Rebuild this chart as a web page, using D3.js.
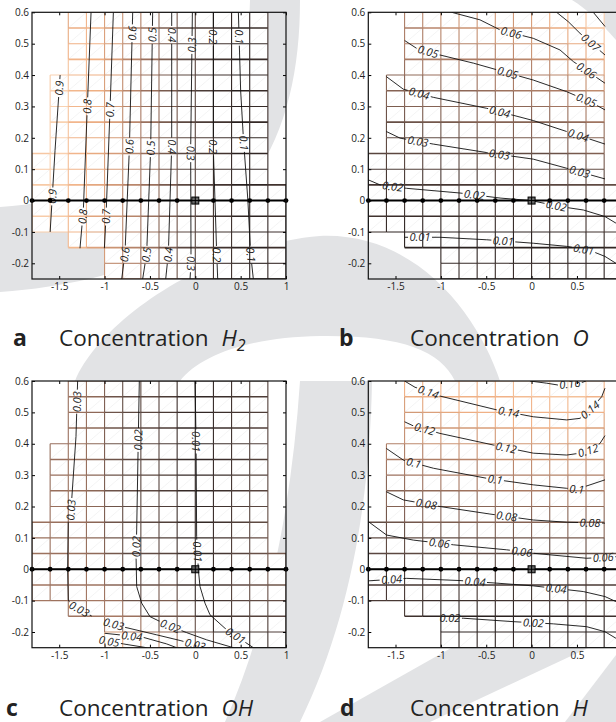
<!DOCTYPE html>
<html>
<head>
<meta charset="utf-8">
<script src="https://d3js.org/d3.v7.min.js"></script>
<style>
  body { margin: 0; background: #fff; overflow: hidden; font-family: "Open Sans", sans-serif; }
</style>
</head>
<body>
<svg id="fig" width="616" height="722"></svg>
<script>
// ---------- data ----------
const xTicks = [-1.5, -1, -0.5, 0, 0.5, 1];
const yTicks = [0.6, 0.5, 0.4, 0.3, 0.2, 0.1, 0, -0.1, -0.2];
const xDomain = [-1.8, 1];
const yDomain = [-0.25, 0.6];

// mesh node lines and the staircase blocks that carry cells [x0, x1, y0, y1]
const meshX = [-1.8, -1.6, -1.4, -1.2, -1.0, -0.8, -0.6, -0.4, -0.2, 0, 0.2, 0.4, 0.6, 0.8, 1.0];
const meshY = [-0.25, -0.2, -0.15, -0.1, -0.05, 0, 0.05, 0.1, 0.15, 0.2, 0.25, 0.3, 0.35, 0.4, 0.45, 0.5, 0.55, 0.6];
const meshBlocks = [
  [-1.8, -1.6, -0.1, 0.15],
  [-1.6, -1.4, -0.1, 0.4],
  [-1.4, -1.0, -0.15, 0.6],
  [-1.0, 0.8, -0.25, 0.6],
  [0.8, 1.0, -0.25, 0.05]
];

// probe points along y = 0 and the source cell
const probeX = [-1.8, -1.6, -1.4, -1.2, -1.0, -0.8, -0.6, -0.4, -0.2, 0, 0.2, 0.4, 0.6, 0.8, 1.0];
const sourcePoint = [0, 0];

// contour lines: level, polyline, label anchors
const h2Contours = [
  {level: 0.9, pts: [[-1.49, 0.40], [-1.546, 0.16], [-1.60, -0.10]], labels: [[-1.48, 0.358], [-1.565, 0.013]]},
  {level: 0.8, pts: [[-1.149, 0.6], [-1.19, 0.30], [-1.234, -0.03], [-1.271, -0.152]], labels: [[-1.168, 0.30], [-1.241, -0.051]]},
  {level: 0.7, pts: [[-0.903, 0.6], [-0.94, 0.289], [-0.984, -0.051], [-1.002, -0.152]], labels: [[-0.929, 0.289], [-0.977, -0.051]]},
  {level: 0.6, pts: [[-0.69, 0.6], [-0.727, 0.162], [-0.775, -0.168], [-0.811, -0.25]], labels: [[-0.683, 0.533], [-0.712, 0.172], [-0.749, -0.173]]},
  {level: 0.5, pts: [[-0.47, 0.6], [-0.492, 0.162], [-0.536, -0.168], [-0.58, -0.25]], labels: [[-0.455, 0.528], [-0.481, 0.167], [-0.536, -0.173]]},
  {level: 0.4, pts: [[-0.26, 0.6], [-0.26, 0.172], [-0.297, -0.168], [-0.326, -0.25]], labels: [[-0.242, 0.528], [-0.253, 0.172], [-0.286, -0.173]]},
  {level: 0.3, pts: [[-0.032, 0.6], [-0.051, 0.162], [-0.047, -0.2], [-0.058, -0.25]], labels: [[-0.04, 0.496], [-0.047, 0.151], [-0.029, -0.2]]},
  {level: 0.2, pts: [[0.199, 0.6], [0.199, 0.162], [0.236, -0.168], [0.247, -0.25]], labels: [[0.181, 0.522], [0.199, 0.172], [0.254, -0.173]]},
  {level: 0.1, pts: [[0.475, 0.6], [0.50, 0.35], [0.53, 0.2], [0.58, 0.0], [0.61, -0.17], [0.64, -0.25]], labels: [[0.464, 0.522], [0.512, 0.183], [0.596, -0.173]]}
];

const oContours = [
  {level: 0.08, pts: [[0.68, 0.6], [0.809, 0.555]], labels: []},
  {level: 0.07, pts: [[0.276, 0.6], [0.405, 0.57], [0.534, 0.533], [0.809, 0.464]], labels: [[0.644, 0.501]]},
  {level: 0.06, pts: [[-0.881, 0.6], [-0.569, 0.576], [-0.348, 0.544], [0.019, 0.517], [0.313, 0.48], [0.46, 0.443], [0.809, 0.374]], labels: [[-0.227, 0.533], [0.589, 0.408]]},
  {level: 0.05, pts: [[-1.399, 0.51], [-1.267, 0.485], [-1.01, 0.464], [-0.642, 0.438], [-0.275, 0.408], [0.019, 0.384], [0.387, 0.347], [0.644, 0.315], [0.809, 0.289]], labels: [[-1.146, 0.469], [-0.267, 0.404], [0.589, 0.31]]},
  {level: 0.04, pts: [[-1.601, 0.395], [-1.414, 0.355], [-1.083, 0.329], [-0.495, 0.294], [0.019, 0.255], [0.387, 0.22], [0.809, 0.18]], labels: [[-1.249, 0.331], [-0.356, 0.278], [0.515, 0.209]]},
  {level: 0.03, pts: [[-1.601, 0.22], [-1.45, 0.199], [-1.083, 0.18], [-0.495, 0.153], [0.019, 0.132], [0.387, 0.103], [0.809, 0.069]], labels: [[-1.256, 0.183], [-0.356, 0.144], [0.526, 0.089]]},
  {level: 0.02, pts: [[-1.8, 0.066], [-1.671, 0.05], [-1.377, 0.039], [-0.789, 0.024], [-0.348, 0.008], [-0.007, 0.0], [0.313, -0.019], [0.57, -0.03], [0.809, -0.051], [0.93, -0.072]], labels: [[-1.535, 0.037], [-0.631, 0.015], [0.269, -0.021]]},
  {level: 0.01, pts: [[-1.4, -0.117], [-1.01, -0.117], [-0.495, -0.125], [0.019, -0.136], [0.387, -0.146], [0.644, -0.159], [0.809, -0.178], [0.93, -0.2]], labels: [[-1.23, -0.118], [-0.312, -0.13], [0.57, -0.162]]}
];

const ohContours = [
  {level: 0.03, pts: [[-1.297, 0.6], [-1.315, 0.423], [-1.37, 0.189], [-1.4, 0.157], [-1.407, -0.002], [-1.4, -0.098], [-1.363, -0.114], [-1.142, -0.149]], labels: [[-1.297, 0.534], [-1.37, 0.189], [-1.289, -0.132]]},
  {level: 0.03, pts: [[-1.0, -0.167], [-0.775, -0.185], [-0.426, -0.209], [-0.168, -0.227], [0.126, -0.25]], labels: [[-0.903, -0.177], [-0.003, -0.24]]},
  {level: 0.02, pts: [[-0.617, 0.6], [-0.628, 0.423], [-0.646, 0.125], [-0.653, 0.04], [-0.646, -0.055], [-0.591, -0.108], [-0.499, -0.151], [-0.315, -0.177], [-0.095, -0.202], [0.126, -0.225], [0.42, -0.25]], labels: [[-0.609, 0.412], [-0.628, 0.072], [-0.279, -0.185]]},
  {level: 0.01, pts: [[-0.003, 0.6], [0.008, 0.423], [0.015, 0.104], [0.034, -0.002], [0.052, -0.055], [0.107, -0.108], [0.162, -0.145], [0.346, -0.193], [0.64, -0.25]], labels: [[0.015, 0.407], [0.015, 0.056], [0.438, -0.214]]},
  {level: 0.04, pts: [[-1.0, -0.204], [-0.573, -0.217], [-0.315, -0.238], [-0.205, -0.25]], labels: [[-0.701, -0.215]]},
  {level: 0.05, pts: [[-1.0, -0.227], [-0.793, -0.238], [-0.536, -0.25]], labels: [[-0.947, -0.226]]}
];

const hContours = [
  {level: 0.16, pts: [[-0.018, 0.6], [0.166, 0.593], [0.295, 0.587], [0.552, 0.595], [0.6, 0.6]], labels: [[0.423, 0.587]]},
  {level: 0.14, pts: [[-1.4, 0.6], [-1.285, 0.58], [-1.01, 0.552], [-0.385, 0.508], [0.019, 0.486], [0.387, 0.476], [0.534, 0.481], [0.644, 0.508], [0.773, 0.55], [0.809, 0.577]], labels: [[-1.146, 0.559], [-0.256, 0.497], [0.644, 0.508]]},
  {level: 0.12, pts: [[-1.4, 0.47], [-1.304, 0.457], [-1.01, 0.433], [-0.422, 0.396], [0.019, 0.37], [0.387, 0.364], [0.534, 0.37], [0.644, 0.38], [0.754, 0.401], [0.809, 0.426]], labels: [[-1.186, 0.439], [-0.282, 0.385], [0.626, 0.375]]},
  {level: 0.1, pts: [[-1.601, 0.385], [-1.414, 0.348], [-1.083, 0.322], [-0.495, 0.29], [0.019, 0.269], [0.387, 0.258], [0.497, 0.255], [0.644, 0.269], [0.809, 0.285]], labels: [[-1.304, 0.335], [-0.403, 0.285], [0.497, 0.253]]},
  {level: 0.08, pts: [[-1.601, 0.247], [-1.414, 0.221], [-1.01, 0.2], [-0.459, 0.176], [0.019, 0.157], [0.387, 0.15], [0.809, 0.147]], labels: [[-1.164, 0.202], [-0.275, 0.168], [0.644, 0.145]]},
  {level: 0.06, pts: [[-1.8, 0.152], [-1.598, 0.109], [-1.304, 0.093], [-0.863, 0.078], [-0.275, 0.062], [0.019, 0.051], [0.607, 0.035], [0.93, 0.04]], labels: [[-1.017, 0.081], [-0.109, 0.054], [0.791, 0.033]]},
  {level: 0.04, pts: [[-1.8, -0.037], [-1.377, -0.029], [-0.789, -0.036], [-0.348, -0.045], [0.019, -0.053], [0.57, -0.071], [0.809, -0.087], [0.93, -0.103]], labels: [[-1.543, -0.032], [-0.624, -0.041], [0.269, -0.066]]},
  {level: 0.02, pts: [[-0.991, -0.156], [-0.753, -0.156], [-0.201, -0.167], [0.24, -0.174], [0.607, -0.183], [0.809, -0.199], [0.93, -0.22]], labels: [[-0.9, -0.159], [0.019, -0.172]]}
];

// ---------- layout ----------
const W = 616, H = 722;
const plotW = 254, plotH = 266.7;
const panels = [
  {id: 'a', left: 32, top: 12.3, contours: h2Contours, letter: 'a', letterX: 13, titleX: 59, titleY: 346, species: 'H', sub: '2'},
  {id: 'b', left: 368.3, top: 12.3, contours: oContours, letter: 'b', letterX: 339, titleX: 410, titleY: 346, species: 'O', sub: ''},
  {id: 'c', left: 32, top: 381, contours: ohContours, letter: 'c', letterX: 6, titleX: 59, titleY: 716, species: 'OH', sub: ''},
  {id: 'd', left: 368.3, top: 381, contours: hContours, letter: 'd', letterX: 340, titleX: 410, titleY: 716, species: 'H', sub: ''}
];

const svg = d3.select('#fig');
const defs = svg.append('defs');

// background watermark (page decoration, not data)
const wm = svg.append('g').attr('fill', '#e2e3e5');
wm.append('path').attr('d', 'M250,0 L300,0 C300,160 230,275 0,292 L0,207 C130,200 250,110 250,0 Z');
wm.append('path').attr('d', 'M75,381 C100,320 210,245 320,236 C420,232 480,320 500,381 L455,381 C440,350 400,335 320,336 C250,337 200,355 180,381 Z');
wm.append('path').attr('d', 'M300,381 L372,381 C370,500 350,620 300,722 L225,722 C270,620 292,500 300,381 Z');
wm.append('path').attr('d', 'M320,722 L430,722 L616,635 L616,555 Z');
wm.append('path').attr('d', 'M565,722 L616,655 L616,722 Z');
wm.append('path').attr('d', 'M572,0 L616,0 L616,40 C600,22 588,10 572,0 Z');

const copper = d3.scaleLinear()
  .domain([0, 0.3, 0.55, 0.8, 1])
  .range(['#1b1515', '#5c4841', '#a97a64', '#f0b084', '#fde0c4'])
  .clamp(true);

function segDist(p, a, b) {
  const dx = b[0] - a[0], dy = b[1] - a[1];
  const L = dx * dx + dy * dy;
  let t = L ? ((p[0] - a[0]) * dx + (p[1] - a[1]) * dy) / L : 0;
  t = Math.max(0, Math.min(1, t));
  const q = [a[0] + t * dx, a[1] + t * dy];
  return {d: Math.hypot(p[0] - q[0], p[1] - q[1]), q: q, ang: Math.atan2(dy, dx)};
}
function nearest(p, poly) {
  let best = null;
  for (let i = 0; i < poly.length - 1; i++) {
    const r = segDist(p, poly[i], poly[i + 1]);
    if (!best || r.d < best.d) best = r;
  }
  return best;
}

panels.forEach(p => {
  const x = d3.scaleLinear().domain(xDomain).range([p.left, p.left + plotW]);
  const y = d3.scaleLinear().domain(yDomain).range([p.top + plotH, p.top]);
  const g = svg.append('g');

  defs.append('clipPath').attr('id', 'clip' + p.id)
    .append('rect').attr('x', p.left).attr('y', p.top).attr('width', plotW).attr('height', plotH);

  const lines = p.contours.map(c => ({level: c.level, px: c.pts.map(d => [x(d[0]), y(d[1])]), labels: c.labels}));
  const levels = p.contours.map(c => c.level);
  const vmin = d3.min(levels), vmax = d3.max(levels);
  const step = (vmax - vmin) / (new Set(levels).size - 1);
  const lo = vmin - step / 2, hi = vmax + step / 2;

  // field value at a pixel, inverse distance weighted from the contour lines
  function field(pt) {
    let sw = 0, sv = 0;
    lines.forEach(l => {
      const d = nearest(pt, l.px).d;
      const w = 1 / (d * d + 4);
      sw += w; sv += w * l.level;
    });
    return sv / sw;
  }
  const colorAt = pt => copper((field(pt) - lo) / (hi - lo));

  const mesh = g.append('g').attr('clip-path', `url(#clip${p.id})`);

  // cells
  const cells = [];
  meshBlocks.forEach(([x0, x1, y0, y1]) => {
    const xs = meshX.filter(v => v >= x0 - 1e-9 && v <= x1 + 1e-9);
    const ys = meshY.filter(v => v >= y0 - 1e-9 && v <= y1 + 1e-9);
    for (let i = 0; i < xs.length - 1; i++)
      for (let j = 0; j < ys.length - 1; j++)
        cells.push([xs[i], xs[i + 1], ys[j], ys[j + 1]]);
  });
  mesh.selectAll('rect.cell').data(cells).join('rect')
    .attr('class', 'cell')
    .attr('x', d => x(d[0])).attr('y', d => y(d[3]))
    .attr('width', d => x(d[1]) - x(d[0])).attr('height', d => y(d[2]) - y(d[3]))
    .attr('fill', '#fff');
  mesh.selectAll('line.hatch').data(cells).join('line')
    .attr('class', 'hatch')
    .attr('x1', d => x(d[0])).attr('y1', d => y(d[2]))
    .attr('x2', d => x(d[1])).attr('y2', d => y(d[3]))
    .attr('stroke', '#d9d9d9').attr('stroke-width', 0.5).attr('opacity', 0.6);

  // edges
  const edgeMap = new Map();
  cells.forEach(([x0, x1, y0, y1]) => {
    [[x0, y0, x1, y0], [x0, y1, x1, y1], [x0, y0, x0, y1], [x1, y0, x1, y1]].forEach(e => {
      const k = e.map(v => v.toFixed(3)).join(',');
      if (!edgeMap.has(k)) edgeMap.set(k, e);
    });
  });
  const edges = Array.from(edgeMap.values());
  mesh.selectAll('line.edge').data(edges).join('line')
    .attr('class', 'edge')
    .attr('x1', d => x(d[0])).attr('y1', d => y(d[1]))
    .attr('x2', d => x(d[2])).attr('y2', d => y(d[3]))
    .attr('stroke', d => colorAt([(x(d[0]) + x(d[2])) / 2, (y(d[1]) + y(d[3])) / 2]))
    .attr('stroke-width', d => (d[1] === d[3] && Math.round(d[1] / 0.05) % 2 !== 0) ? 1.6 : 1.1);

  // contour labels
  const labG = g.append('g').attr('clip-path', `url(#clip${p.id})`);
  const mask = defs.append('mask').attr('id', 'mask' + p.id)
    .attr('maskUnits', 'userSpaceOnUse').attr('x', 0).attr('y', 0).attr('width', W).attr('height', H);
  mask.append('rect').attr('width', W).attr('height', H).attr('fill', '#fff');

  lines.forEach(l => {
    l.labels.forEach(lb => {
      const r = nearest([x(lb[0]), y(lb[1])], l.px);
      let a = r.ang * 180 / Math.PI;
      if (a > 90) a -= 180;
      if (a <= -90) a += 180;
      const t = labG.append('text')
        .attr('transform', `translate(${r.q[0]},${r.q[1]}) rotate(${a})`)
        .attr('text-anchor', 'middle').attr('dy', '0.36em')
        .attr('font-size', 11).attr('font-style', 'italic').attr('fill', '#222')
        .text(String(l.level));
      const w = t.node().getComputedTextLength();
      mask.append('rect')
        .attr('transform', `translate(${r.q[0]},${r.q[1]}) rotate(${a})`)
        .attr('x', -w / 2 - 1.5).attr('y', -5).attr('width', w + 3).attr('height', 10)
        .attr('fill', '#000');
    });
  });

  const lineGen = d3.line();
  g.append('g').attr('clip-path', `url(#clip${p.id})`)
    .append('g').attr('mask', `url(#mask${p.id})`)
    .selectAll('path').data(lines).join('path')
    .attr('d', d => lineGen(d.px))
    .attr('fill', 'none').attr('stroke', '#111').attr('stroke-width', 0.9);

  // probe line on y = 0
  g.append('line')
    .attr('x1', x(d3.min(probeX))).attr('x2', x(d3.max(probeX)))
    .attr('y1', y(0)).attr('y2', y(0))
    .attr('stroke', '#000').attr('stroke-width', 2);
  g.selectAll('circle.probe').data(probeX).join('circle')
    .attr('class', 'probe')
    .attr('cx', d => x(d)).attr('cy', y(0)).attr('r', 2.4).attr('fill', '#000');
  const sq = g.append('g').attr('transform', `translate(${x(sourcePoint[0])},${y(sourcePoint[1])})`);
  sq.append('rect').attr('x', -3.5).attr('y', -3.5).attr('width', 7).attr('height', 7)
    .attr('fill', '#666').attr('stroke', '#000').attr('stroke-width', 1);
  sq.append('path').attr('d', 'M-3.5,0H3.5M0,-3.5V3.5').attr('stroke', '#000').attr('stroke-width', 1);

  // axes (labels that fall outside the page are not drawn, as in the cropped figure)
  const fmt = d => String(d);
  const visX = xTicks.filter(v => x(v) < W - 6);
  const styleAxis = sel => {
    sel.attr('font-family', '"Open Sans", sans-serif').attr('font-size', 10);
    sel.select('.domain').remove();
    sel.selectAll('.tick line').attr('stroke', '#000');
    sel.selectAll('.tick text').attr('fill', '#222');
  };
  g.append('g').attr('transform', `translate(${p.left},0)`)
    .call(d3.axisLeft(y).tickValues(yTicks).tickFormat(fmt).tickSize(-3).tickPadding(3)).call(styleAxis);
  g.append('g').attr('transform', `translate(0,${p.top + plotH})`)
    .call(d3.axisBottom(x).tickValues(visX).tickFormat(fmt).tickSize(-3).tickPadding(4)).call(styleAxis);
  g.append('g').attr('transform', `translate(${p.left + plotW},0)`)
    .call(d3.axisRight(y).tickValues(yTicks).tickFormat('').tickSize(-3)).call(styleAxis);
  g.append('g').attr('transform', `translate(0,${p.top})`)
    .call(d3.axisTop(x).tickValues(xTicks).tickFormat('').tickSize(-3)).call(styleAxis);
  g.append('rect').attr('x', p.left).attr('y', p.top).attr('width', plotW).attr('height', plotH)
    .attr('fill', 'none').attr('stroke', '#111').attr('stroke-width', 1.2);

  // title
  g.append('text').attr('x', p.letterX).attr('y', p.titleY)
    .attr('font-size', 23).attr('font-weight', 'bold').attr('fill', '#222').text(p.letter);
  const tt = g.append('text').attr('x', p.titleX).attr('y', p.titleY)
    .attr('font-size', 22.5).attr('fill', '#222');
  tt.append('tspan').text('Concentration');
  tt.append('tspan').attr('dx', 13).attr('font-style', 'italic').text(p.species);
  if (p.sub) tt.append('tspan').attr('dy', 5).attr('font-size', 16).attr('font-style', 'italic').text(p.sub);
});
</script>
</body>
</html>
